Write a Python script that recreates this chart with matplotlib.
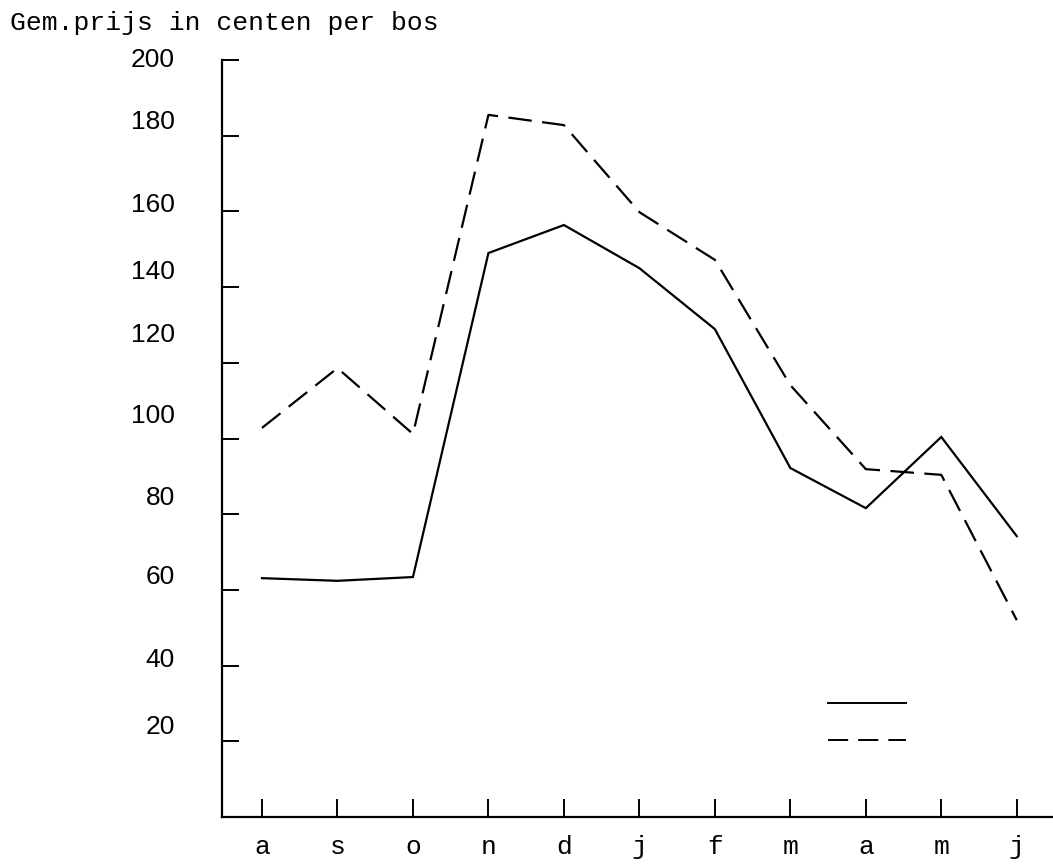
import matplotlib
matplotlib.use("Agg")
import matplotlib.pyplot as plt
import matplotlib.transforms as mtransforms
from matplotlib.lines import Line2D

# ---- data ----
months = ['a', 's', 'o', 'n', 'd', 'j', 'f', 'm', 'a', 'm', 'j']
solid_prices = [63.1, 62.4, 63.4, 149.0, 156.4, 145.0, 128.9, 92.2, 81.6, 100.4, 74.2]
dashed_prices = [102.8, 118.6, 101.2, 185.5, 182.8, 159.8, 147.2, 114.1, 91.9, 90.4, 52.0]
ytick_values = [20, 40, 60, 80, 100, 120, 140, 160, 180, 200]
ytick_labels = ['20', '40', '60', '80', '100', '120', '140', '160', '180', '200']
title_text = 'Gem.prijs in centen per bos'

# typed labels sit slightly above their tick marks (pixels)
ylabel_offsets_px = [17, 8, 15, 19, 25, 30, 18, 9, 16, 3]

plt.rcParams['lines.scale_dashes'] = False
W, H = 1053, 865
fig = plt.figure(figsize=(W / 100, H / 100), dpi=100)
fig.patch.set_facecolor('white')

ax_left, ax_right, ax_top, ax_bottom = 222, 1053, 60, 817
ax = fig.add_axes([ax_left / W, 1 - ax_bottom / H, (ax_right - ax_left) / W, (ax_bottom - ax_top) / H])

x = list(range(len(months)))
ax.plot(x, solid_prices, color='black', lw=1.6, solid_joinstyle='miter')
ax.plot(x, dashed_prices, color='black', lw=1.6, linestyle=(0, (17, 7.5)))

ax.set_xlim(-0.53, 10.48)
ax.set_ylim(0, 200)

for s in ['top', 'right']:
    ax.spines[s].set_visible(False)
for s in ['left', 'bottom']:
    ax.spines[s].set_linewidth(1.6)
    ax.spines[s].set_color('black')

ax.set_xticks(x)
ax.set_xticklabels(months, fontfamily='Liberation Mono', fontsize=19)
ax.tick_params(axis='x', direction='in', length=13, width=1.4, pad=13)

ax.set_yticks(ytick_values)
ax.set_yticklabels(ytick_labels, fontfamily='Liberation Sans', fontsize=19)
ax.tick_params(axis='y', direction='in', length=12, width=1.4, pad=34)

for lab, off in zip(ax.get_yticklabels(), ylabel_offsets_px):
    lab.set_transform(lab.get_transform() + mtransforms.ScaledTranslation(0, off / 100, fig.dpi_scale_trans))

fig.text(10 / W, 1 - 23 / H, title_text, fontfamily='Liberation Mono', fontsize=19,
         ha='left', va='center')

handles = [Line2D([], [], color='black', lw=1.4),
           Line2D([], [], color='black', lw=1.4, linestyle=(0, (14.5, 7.2)))]
ax.legend(handles, [' ', ' '], loc='upper left', frameon=False,
          bbox_to_anchor=(828 / W, 1 - 695 / H), bbox_transform=fig.transFigure,
          fontsize=14, handlelength=4.0, handletextpad=0, borderpad=0, borderaxespad=0,
          labelspacing=0.9)

fig.savefig('out.png', dpi=100, facecolor='white')
